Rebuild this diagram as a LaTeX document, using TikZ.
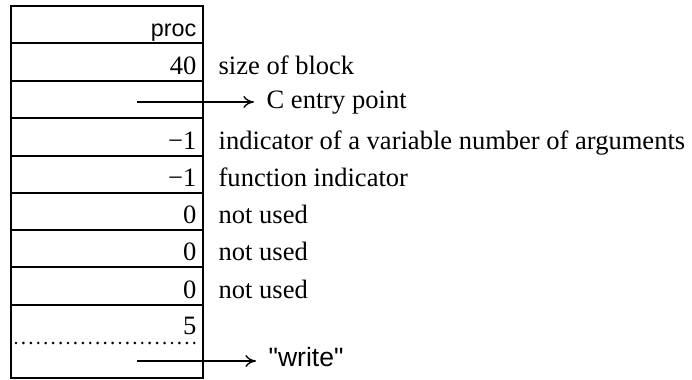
\documentclass[tikz,border=0pt]{standalone}
\usepackage{fontspec}
\setmainfont{Liberation Serif}
\setsansfont{Liberation Sans}[Ligatures=TeXOff]
\usetikzlibrary{arrows.meta}

\begin{document}
\begin{tikzpicture}[x=0.377pt,y=-0.377pt,line width=0.5pt]
	\tikzset{val/.style={anchor=base east,inner sep=0pt},
		note/.style={anchor=base west,inner sep=0pt},
		ptr/.style={-{To[length=4pt,width=4.5pt]},shorten >=4.5pt}}
	\useasboundingbox (0,0) rectangle (692,379);
	\draw (11,6) rectangle (203,378);
	\foreach \y in {43,81,118,156,193,230,267,305} \draw (11,\y) -- (203,\y);
	\draw[line width=1.1pt,line cap=round,dash pattern=on 0pt off 2.8pt] (16,343) -- (201,343);
	\node[val,font=\sffamily\fontsize{8.8}{10}\selectfont] (proc) at (197,36) {proc};
	\node[val] (size) at (197,74) {40};
	\node[note] (sizenote) at (218,74) {size of block};
	\coordinate (cstart) at (137,102);
	\node[note] (centry) at (266,108) {C entry point};
	\draw[ptr] (cstart) -- (cstart -| centry.west);
	\node[val] (vararg) at (197,149) {−1};
	\node[note] (varnote) at (218,149) {indicator of a variable number of arguments};
	\node[val] (func) at (197,186) {−1};
	\node[note] (funcnote) at (218,186) {function indicator};
	\node[val] (unusedA) at (197,223) {0};
	\node[note] (noteA) at (218,223) {not used};
	\node[val] (unusedB) at (197,260) {0};
	\node[note] (noteB) at (218,260) {not used};
	\node[val] (unusedC) at (197,298) {0};
	\node[note] (noteC) at (218,298) {not used};
	\node[val] (len) at (197,334) {5};
	\coordinate (wstart) at (137,361);
	\node[note,font=\sffamily] (wname) at (268,366) {"write"};
	\draw[ptr] (wstart) -- (wstart -| wname.west);
\end{tikzpicture}
\end{document}
